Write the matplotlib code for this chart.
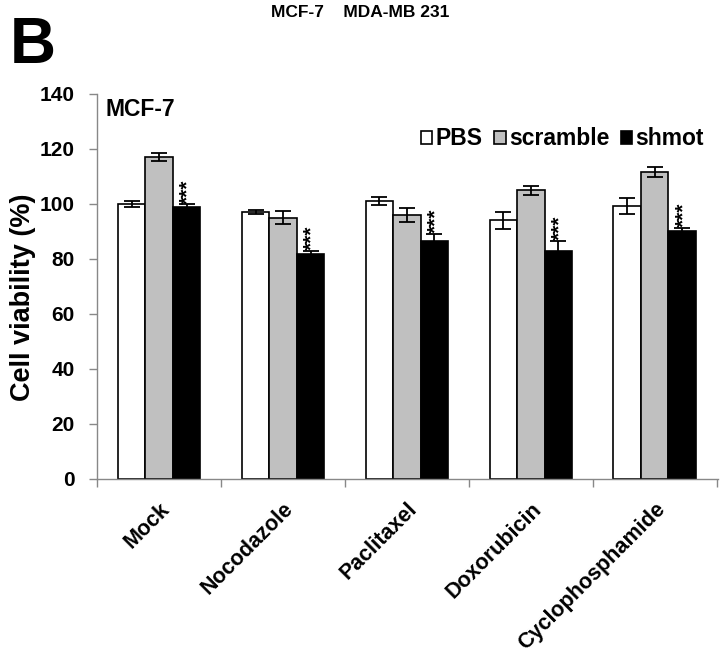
import matplotlib
matplotlib.use("Agg")
import matplotlib.pyplot as plt
import matplotlib.transforms as mtransforms
import numpy as np

plt.rcParams['font.family'] = ['Liberation Sans', 'DejaVu Sans']
plt.rcParams['font.weight'] = 'bold'

categories = ["Mock", "Nocodazole", "Paclitaxel", "Doxorubicin", "Cyclophosphamide"]
series_names = ["PBS", "scramble", "shmot"]
pbs = [100.0, 97.0, 101.0, 94.0, 99.3]
pbs_err = [1.0, 0.8, 1.5, 3.0, 2.9]
scramble = [117.0, 95.0, 96.0, 105.0, 111.6]
scramble_err = [1.5, 2.4, 2.5, 1.6, 1.7]
shmot = [98.8, 81.8, 86.4, 83.0, 90.0]
shmot_err = [1.0, 1.2, 2.8, 3.5, 1.3]
signif = ["***", "***", "***", "***", "***"]
yticks = [0, 20, 40, 60, 80, 100, 120, 140]

fig = plt.figure(figsize=(7.2, 6.54), dpi=100)
ax = fig.add_axes([0.135, 0.2676, 0.862, 0.5888])

x = np.arange(len(categories))
w = 0.222
colors = ["white", "#c0c0c0", "black"]
vals = [pbs, scramble, shmot]
errs = [pbs_err, scramble_err, shmot_err]
for i, (v, e, c, n) in enumerate(zip(vals, errs, colors, series_names)):
    pos = x + (i - 1) * w
    ax.bar(pos, v, width=w, color=c, edgecolor="black", linewidth=1.2, label=n, zorder=2)
    ax.errorbar(pos, v, yerr=e, fmt="none", ecolor="black", elinewidth=1.3,
                capsize=6, capthick=1.3, zorder=3)

for xi, v, e, s in zip(x, shmot, shmot_err, signif):
    ax.text(xi + w + 0.01, v + e + 0.3, s, rotation=90, ha="center", va="bottom",
            fontsize=15, fontweight="bold")

ax.set_xlim(-0.5, len(categories) - 0.5 + 0.01)
ax.set_ylim(0, 140)
ax.set_yticks(yticks)
ax.set_yticklabels([str(t) for t in yticks], fontsize=15, fontweight="bold")
ax.set_xticks(x)
ax.set_xticklabels(categories, rotation=45, ha="right", rotation_mode="anchor",
                   fontsize=15.5, fontweight="bold")
offset = mtransforms.ScaledTranslation(0.09, 0.0, fig.dpi_scale_trans)
for lab in ax.get_xticklabels():
    lab.set_transform(lab.get_transform() + offset)
ax.tick_params(axis="x", length=0, pad=14)
# boundary ticks
ax.set_xticks(np.arange(len(categories) + 1) - 0.5, minor=True)
ax.tick_params(axis="x", which="minor", length=6, color="#888888", width=1)
ax.tick_params(axis="y", length=6, color="#888888", width=1, pad=10)

for side in ["top", "right"]:
    ax.spines[side].set_visible(False)
for side in ["left", "bottom"]:
    ax.spines[side].set_color("#888888")
    ax.spines[side].set_linewidth(1)

ax.set_ylabel("Cell viability (%)", fontsize=19.5, fontweight="bold")
ax.yaxis.set_label_coords(-0.098, 0.473)

ax.text(0.013, 0.99, "MCF-7", transform=ax.transAxes, fontsize=16.5,
        fontweight="bold", ha="left", va="top")

leg = ax.legend(loc="center right", bbox_to_anchor=(0.978, 0.883), ncol=3, frameon=False,
                prop={"weight": "bold", "size": 16.5},
                handlelength=0.5, handleheight=0.5, handletextpad=0.15,
                columnspacing=0.5, borderaxespad=0.0, borderpad=0.0)

fig.text(0.013, 0.975, "B", fontsize=46, fontweight="bold", ha="left", va="top")
fig.text(0.5, 0.993, "MCF-7    MDA-MB 231", fontsize=12.5, fontweight="bold",
         ha="center", va="top")

fig.savefig("out.png", dpi=100)
